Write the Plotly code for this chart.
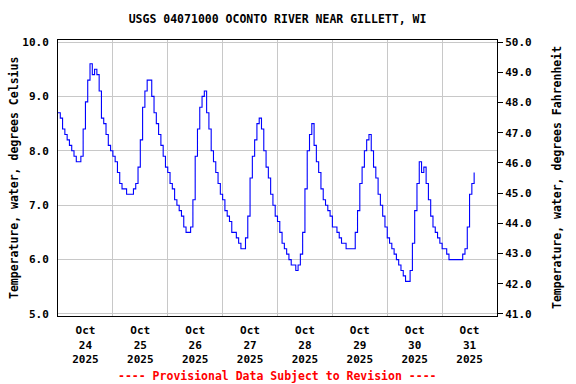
import pandas as pd
import plotly.graph_objects as go

# Hourly water temperature readings (deg C), starting 2025-10-24 00:00
start_time = "2025-10-24 00:00"
temp_c = [
    # Oct 24
    8.7, 8.6, 8.4, 8.3, 8.2, 8.1, 8.0, 7.9, 7.8, 7.8, 7.9, 8.4,
    8.9, 9.3, 9.6, 9.4, 9.5, 9.4, 9.1, 8.6, 8.5, 8.3, 8.1, 8.0,
    # Oct 25
    7.9, 7.8, 7.6, 7.4, 7.3, 7.3, 7.2, 7.2, 7.2, 7.3, 7.4, 7.7,
    8.2, 8.8, 9.1, 9.3, 9.3, 9.0, 8.7, 8.5, 8.3, 8.1, 7.9, 7.7,
    # Oct 26
    7.6, 7.4, 7.3, 7.1, 7.0, 6.9, 6.8, 6.6, 6.5, 6.5, 6.6, 7.1,
    7.9, 8.4, 8.8, 9.0, 9.1, 8.7, 8.4, 8.0, 7.8, 7.6, 7.4, 7.2,
    # Oct 27
    7.1, 6.9, 6.8, 6.7, 6.5, 6.5, 6.4, 6.3, 6.2, 6.2, 6.4, 6.8,
    7.5, 7.9, 8.2, 8.5, 8.6, 8.4, 8.0, 7.7, 7.5, 7.2, 7.0, 6.8,
    # Oct 28
    6.7, 6.5, 6.3, 6.2, 6.1, 6.0, 5.9, 5.9, 5.8, 5.9, 6.1, 6.5,
    7.3, 8.0, 8.3, 8.5, 8.1, 7.8, 7.6, 7.3, 7.1, 7.0, 6.9, 6.8,
    # Oct 29
    6.6, 6.6, 6.5, 6.4, 6.3, 6.3, 6.2, 6.2, 6.2, 6.2, 6.5, 6.9,
    7.4, 7.7, 8.0, 8.2, 8.3, 8.0, 7.7, 7.5, 7.2, 7.0, 6.8, 6.6,
    # Oct 30
    6.4, 6.3, 6.2, 6.1, 6.0, 5.9, 5.8, 5.7, 5.6, 5.6, 5.8, 6.3,
    6.9, 7.4, 7.8, 7.6, 7.7, 7.4, 7.1, 6.8, 6.6, 6.5, 6.4, 6.3,
    # Oct 31
    6.2, 6.2, 6.1, 6.0, 6.0, 6.0, 6.0, 6.0, 6.0, 6.1, 6.2, 6.6,
    7.2, 7.4, 7.6,
]

x_range = ["2025-10-24 00:00", "2025-11-01 00:00"]
y_range_c = [4.963, 10.037]
y_ticks_c = [5, 6, 7, 8, 9, 10]
y_ticks_f = [41, 42, 43, 44, 45, 46, 47, 48, 49, 50]

title_text = "USGS 04071000 OCONTO RIVER NEAR GILLETT, WI"
left_title = "Temperature, water, degrees Celsius"
right_title = "Temperature, water, degrees Fahrenheit"
note_text = "---- Provisional Data Subject to Revision ----"

times = pd.date_range(start_time, periods=len(temp_c), freq="h")
y_range_f = [v * 1.8 + 32 for v in y_range_c]

FONT = "DejaVu Sans Mono"

fig = go.Figure()
fig.add_trace(go.Scatter(
    x=times, y=temp_c, mode="lines",
    line=dict(color="#0000FF", width=1.1, shape="hv"),
    showlegend=False, hoverinfo="skip",
))
# invisible trace to activate the Fahrenheit axis
fig.add_trace(go.Scatter(
    x=[times[0]], y=[temp_c[0] * 1.8 + 32], yaxis="y2", mode="markers",
    marker=dict(opacity=0), showlegend=False, hoverinfo="skip",
))

fig.update_layout(
    width=576, height=384,
    margin=dict(l=58, r=79, t=40, b=68),
    paper_bgcolor="white", plot_bgcolor="white",
    font=dict(family=FONT, size=11, color="black", weight="bold"),
    title=dict(text=title_text, x=0.5, xref="paper", y=1 - 19 / 384,
               yanchor="middle", xanchor="center", automargin=False,
               font=dict(family=FONT, size=11.5, color="black", weight="bold")),
    xaxis=dict(
        type="date", range=x_range, dtick=86400000, tick0="2025-10-24",
        ticklabelmode="period", tickformat="%b<br>%d<br>%Y",
        showgrid=True, gridcolor="#C8C8C8", gridwidth=1,
        showline=True, linecolor="black", linewidth=1, mirror=True,
        ticks="", ticklabelstandoff=4, zeroline=False, automargin=False,
        tickfont=dict(family=FONT, size=11, weight="bold"),
    ),
    yaxis=dict(
        range=y_range_c, tickvals=y_ticks_c,
        ticktext=[f"{v:.1f}" for v in y_ticks_c],
        showgrid=True, gridcolor="#C8C8C8", gridwidth=1,
        showline=True, linecolor="black", linewidth=1, mirror=True,
        ticks="", ticklabelstandoff=6, zeroline=False, automargin=False,
        tickfont=dict(family=FONT, size=11, weight="bold"),
    ),
    yaxis2=dict(
        range=y_range_f, tickvals=y_ticks_f,
        ticktext=[f"{v:.1f}" for v in y_ticks_f],
        overlaying="y", side="right", showgrid=False, zeroline=False,
        ticks="outside", ticklen=5, tickcolor="black", tickwidth=1,
        showline=False, automargin=False,
        tickfont=dict(family=FONT, size=11, weight="bold"),
    ),
    annotations=[
        dict(text=left_title, xref="paper", yref="paper",
             x=(14 - 58) / 439, y=0.5, xanchor="center", yanchor="middle",
             textangle=-90, showarrow=False,
             font=dict(family=FONT, size=11.5, weight="bold")),
        dict(text=right_title, xref="paper", yref="paper",
             x=(557 - 58) / 439, y=0.5, xanchor="center", yanchor="middle",
             textangle=-90, showarrow=False,
             font=dict(family=FONT, size=11.5, weight="bold")),
        dict(text=note_text, xref="paper", yref="paper",
             x=0.5, y=(316 - 376) / 276, xanchor="center", yanchor="middle",
             showarrow=False,
             font=dict(family=FONT, size=11.5, color="#FF0000", weight="bold")),
    ],
)

fig.write_html("out.html", config={"displayModeBar": False},
               post_script="document.body.style.margin='0px';")
